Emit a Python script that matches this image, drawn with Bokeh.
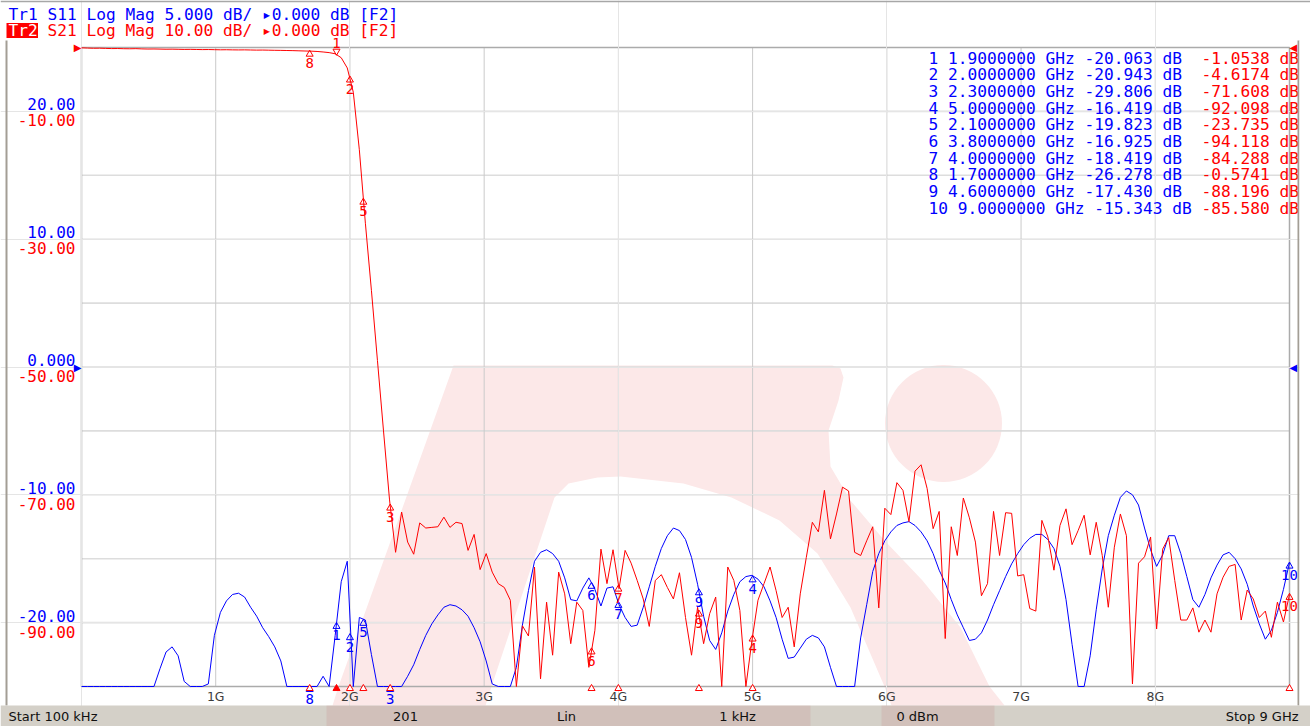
import numpy as np
from bokeh.plotting import figure
from bokeh.models import Range1d, Label, LabelSet, BoxAnnotation, ColumnDataSource
from bokeh.core.properties import value
from bokeh.embed import file_html
from bokeh.resources import INLINE

# ---------------- stimulus (status bar) ----------------
START_GHZ = 0.0001
STOP_GHZ = 9.0
POINTS = 201
status_texts = ["Start 100 kHz", "201", "Lin", "1 kHz", "0 dBm", "Stop 9 GHz"]

# ---------------- Tr1 : S11 Log Mag (dB), 201 points ----------------
s11_db = [
    -25, -25, -25, -25, -25, -25, -25, -25, -25, -25, -25, -25, -25,
    -23.6, -22.3, -21.9, -22.6, -24.6, -25, -25, -25, -24.8, -21.0, -19.2, -18.3,
    -17.8, -17.7, -18.0, -18.8, -19.5, -20.4, -21.1, -21.9, -23.0, -25, -25, -25,
    -25, -26.3, -25, -24.2, -25, -21.0, -16.8, -15.2, -28.0, -19.6, -19.8, -22.5,
    -25, -28.0, -29.8, -27.0, -25,
    -24.2, -23.3, -22.1, -21.0, -20.1, -19.4, -18.8, -18.6, -18.7, -19.0, -19.5,
    -20.4, -21.5, -23.0, -24.8, -25, -25, -25, -23.5, -20.2, -17.5, -15.2, -14.5,
    -14.3, -14.6, -15.2, -16.5, -18.2, -18.3, -17.3, -16.5, -17.4, -18.7, -17.3,
    -17.2, -18.6, -19.6, -20.3, -20.2, -18.8, -17.2, -15.6, -14.2, -13.2, -12.6,
    -12.8, -13.5, -14.9, -17.0, -19.5, -21.4, -22.1, -20.8, -19.1, -17.8, -16.8,
    -16.4, -16.3, -16.6, -17.2, -18.3, -19.6, -21.3, -22.8, -22.7, -22.0, -21.3,
    -21.0, -21.2, -21.9, -23.5, -25, -25, -25, -25, -21.2, -18.6, -16.0, -14.6,
    -13.6, -12.9, -12.4, -12.2, -12.1, -12.4, -12.9, -13.6, -14.6, -15.9, -16.9,
    -18.2, -19.4, -20.4, -21.4, -21.3, -20.8, -19.8, -18.6, -17.5, -16.4, -15.4,
    -14.6, -13.9, -13.4, -13.1, -13.1, -13.5, -14.2, -15.6, -18.2, -21.7, -25,
    -25, -22.6, -19.0, -15.8, -13.2, -11.6, -10.2, -9.7, -10.0, -10.8, -12.6,
    -14.3, -15.6, -14.7, -13.2, -13.2, -14.6, -16.4, -18.2, -18.8, -17.8, -16.5,
    -15.5, -14.7, -14.5, -15.0, -15.8, -17.0, -18.7, -20.1, -21.3, -20.6, -19.2,
    -17.4, -15.3,
]

# ---------------- Tr2 : S21 Log Mag (dB), 201 points ----------------
s21_db = [
    -0.05, -0.09, -0.12, -0.11, -0.14, -0.17, -0.16, -0.19, -0.20, -0.18,
    -0.22, -0.24, -0.23, -0.25, -0.27, -0.26, -0.28, -0.30, -0.29, -0.31,
    -0.33, -0.32, -0.34, -0.36, -0.35, -0.37, -0.38, -0.37, -0.39, -0.41,
    -0.40, -0.42, -0.44, -0.45, -0.47, -0.49, -0.52, -0.55,
    -0.57, -0.62, -0.70, -0.80, -0.98, -1.60, -3.20, -7.00, -16.0, -27.5,
    -38.0, -49.0, -60.0, -70.8,
    -79.0, -72.7, -77.4, -79.3, -74.4, -75.2, -75.1, -75.0, -73.5, -75.1,
    -74.3, -74.5, -78.7, -76.2, -81.7, -79.2, -82.1, -83.9, -84.5, -86.5,
    -100.0, -90.5, -92.1, -81.3, -98.8, -86.8, -95.1, -82.1, -85.5, -93.3,
    -86.8, -88.1, -97.0, -91.2, -78.5, -83.9, -78.6, -84.7, -78.7, -80.7,
    -83.4, -86.3, -90.6, -83.4, -82.5, -84.5, -86.3, -82.2, -89.2, -95.1,
    -87.6, -93.3, -88.6, -86.0, -100.0, -81.3, -83.4, -88.1, -100.0, -92.8,
    -86.5, -83.9, -81.3, -85.0, -89.2, -87.6, -93.8, -85.5, -79.8, -74.3,
    -75.8, -69.3, -76.9, -73.0, -68.8, -69.4, -79.0, -79.5, -77.2, -75.0,
    -87.7, -72.1, -73.1, -68.1, -69.3, -74.2, -66.3, -65.3, -69.0, -75.3,
    -72.6, -92.5, -75.0, -79.5, -70.5, -73.6, -77.4, -85.8, -83.9, -72.6,
    -79.5, -72.8, -72.9, -82.7, -82.5, -87.8, -88.2, -74.0, -76.6, -81.8,
    -74.8, -72.2, -77.8, -75.6, -73.2, -79.4, -74.3, -79.5, -87.6, -78.2,
    -73.0, -76.4, -99.6, -80.7, -79.7, -76.6, -91.0, -78.5, -76.7, -83.4,
    -89.6, -89.6, -87.7, -91.5, -89.6, -91.5, -85.5, -82.9, -81.2, -80.9,
    -89.6, -84.9, -86.3, -89.2, -88.2, -92.3, -86.8, -89.9, -85.6,
]

# ---------------- marker table ----------------
marker_ids = [1, 2, 3, 4, 5, 6, 7, 8, 9, 10]
marker_ghz = [1.9, 2.0, 2.3, 5.0, 2.1, 3.8, 4.0, 1.7, 4.6, 9.0]
marker_s11 = [-20.063, -20.943, -29.806, -16.419, -19.823, -16.925, -18.419, -26.278, -17.430, -15.343]
marker_s21 = [-1.0538, -4.6174, -71.608, -92.098, -23.735, -94.118, -84.288, -0.5741, -88.196, -85.580]
ACTIVE_MARKER = 1

# ---------------- scales / ticks ----------------
x_tick_ghz = [1, 2, 3, 4, 5, 6, 7, 8]
x_tick_labels = ["1G", "2G", "3G", "4G", "5G", "6G", "7G", "8G"]
s11_tick_db = [20, 10, 0, -10, -20]
s11_tick_labels = ["20.00", "10.00", "0.000", "-10.00", "-20.00"]
s21_tick_db = [-10, -30, -50, -70, -90]
s21_tick_labels = ["-10.00", "-30.00", "-50.00", "-70.00", "-90.00"]
S11_REF, S11_PER_DIV = 0.0, 5.0     # reference on the centre line
S21_REF, S21_PER_DIV = 0.0, 10.0    # reference on the top line
DIVS = 10
header_tr1 = "Tr1 S11 Log Mag 5.000 dB/ \u25b80.000 dB [F2]"
header_tr2_name = "Tr2"
header_tr2 = "S21 Log Mag 10.00 dB/ \u25b80.000 dB [F2]"

# ---------------- colours / layout (canvas pixels) ----------------
BLUE = "#0000ff"
RED = "#ff0000"
MONO = "DejaVu Sans Mono"
SANS = "DejaVu Sans"
FIG_W, FIG_H = 1310, 726
GL, GT, GW, GH = 81, 47, 1208, 639      # graticule box
PITCH = 9.75
PINK = "#fce8e8"

s11_lo = S11_REF - DIVS / 2 * S11_PER_DIV
s11_hi = S11_REF + DIVS / 2 * S11_PER_DIV
s21_hi = S21_REF
s21_lo = S21_REF - DIVS * S21_PER_DIV

freq = np.linspace(START_GHZ, STOP_GHZ, POINTS)
s11 = np.array(s11_db)
s21 = np.array(s21_db)

xpp = (STOP_GHZ - START_GHZ) / GW
ypp11 = (s11_hi - s11_lo) / GH
ypp21 = (s21_hi - s21_lo) / GH
x_range = Range1d(START_GHZ - GL * xpp, STOP_GHZ + (FIG_W - GL - GW) * xpp)
y_range = Range1d(s11_lo - (FIG_H - GT - GH) * ypp11, s11_hi + GT * ypp11)
y21_range = Range1d(s21_lo - (FIG_H - GT - GH) * ypp21, s21_hi + GT * ypp21)


def sx(X):          # canvas pixel -> screen units (origin bottom-left)
    return X


def sy(Y):
    return FIG_H - Y


def gx(X):          # canvas pixel -> GHz (background decoration only)
    return START_GHZ + (X - GL) * xpp


def gy(Y):
    return s11_hi - (Y - GT) * ypp11


p = figure(width=FIG_W, height=FIG_H, min_border=0, x_range=x_range, y_range=y_range,
           x_axis_location=None, y_axis_location=None, title=None,
           output_backend="svg", toolbar_location=None)
p.extra_y_ranges = {"s21": y21_range}
p.background_fill_color = "white"
p.border_fill_color = "white"
p.outline_line_color = None


def box(l, r, t, b, color, alpha=1.0, level="annotation"):
    p.add_layout(BoxAnnotation(left=sx(l), right=sx(r), top=sy(t), bottom=sy(b),
                               left_units="screen", right_units="screen",
                               top_units="screen", bottom_units="screen",
                               fill_color=color, fill_alpha=alpha, line_color=None,
                               level=level))


def label(X, Y, text, color, size="16px", font=MONO, align="left", level="annotation"):
    p.add_layout(Label(x=sx(X), y=sy(Y), x_units="screen", y_units="screen", text=text,
                       text_align=align, text_baseline="middle", text_font=font,
                       text_font_size=size, text_color=color, level=level))


# ---------- faint logo watermark ----------
logo_px = [(338, 686), (453, 365), (832, 365), (840, 368), (843, 377), (838, 400), (828, 430),
           (830, 466), (850, 500), (884, 540), (922, 580), (960, 627), (989, 686),
           (884, 686), (850, 607), (817, 553), (779, 520), (731, 497), (683, 483),
           (620, 476), (597, 477), (568, 483), (554, 497), (491, 686)]
p.patch([gx(a) for a, b in logo_px], [gy(b) for a, b in logo_px],
        fill_color=PINK, line_color=None, level="image")
p.scatter([gx(943)], [gy(423)], marker="circle", size=117,
          fill_color=PINK, line_color=None, level="image")
for pts in ([(338, 686), (491, 686), (485, 705), (332, 705)],
            [(884, 686), (989, 686), (1004, 705), (891, 705)]):
    p.patch([gx(a) for a, b in pts], [gy(b) for a, b in pts],
            fill_color=PINK, line_color=None, level="image")

# ---------- graticule ----------
ygrid = list(np.arange(s11_lo + S11_PER_DIV, s11_hi, S11_PER_DIV))
p.segment(x0=START_GHZ, x1=STOP_GHZ, y0=ygrid, y1=ygrid,
          line_color="#dddddd", line_width=1.6, level="underlay")
p.segment(x0=x_tick_ghz, x1=x_tick_ghz, y0=s11_lo, y1=s11_hi,
          line_color="#cacaca", line_width=1, level="underlay")
p.quad(left=START_GHZ, right=STOP_GHZ, bottom=s11_lo, top=s11_hi,
       fill_color=None, line_color="#ababab", line_width=1.5, level="underlay")

# x tick labels
p.add_layout(LabelSet(x="x", y="y", text="t", y_offset=-2,
                      source=ColumnDataSource(dict(x=x_tick_ghz, y=[s11_lo] * len(x_tick_ghz),
                                                   t=x_tick_labels)),
                      text_align="center", text_baseline="top", text_font=value(SANS),
                      text_font_size="12.5px", text_color="#3c3c3c"))

# y tick labels, two scales
for v, lab in zip(s11_tick_db, s11_tick_labels):
    p.add_layout(Label(x=sx(75), x_units="screen", y=v, y_units="data", y_offset=7,
                       text=lab, text_align="right", text_baseline="middle",
                       text_font=MONO, text_font_size="16px", text_color=BLUE))
for v, lab in zip(s21_tick_db, s21_tick_labels):
    p.add_layout(Label(x=sx(75), x_units="screen", y=v, y_units="data", y_range_name="s21",
                       y_offset=-9, text=lab, text_align="right", text_baseline="middle",
                       text_font=MONO, text_font_size="16px", text_color=RED))

# reference level arrows
for yv, rn, col in ((S11_REF, "default", BLUE), (S21_REF, "s21", RED)):
    p.add_layout(Label(x=sx(GL), x_units="screen", y=yv, y_units="data", y_range_name=rn,
                       text="\u25b6", text_align="right", text_baseline="middle",
                       text_font=SANS, text_font_size="10px", text_color=col))
    p.add_layout(Label(x=sx(GL + GW), x_units="screen", y=yv, y_units="data", y_range_name=rn,
                       text="\u25c0", text_align="left", text_baseline="middle",
                       text_font=SANS, text_font_size="10px", text_color=col))

# ---------- traces ----------
p.line(freq, np.clip(s11, s11_lo, s11_hi), line_color=BLUE, line_width=1)
p.line(freq, np.clip(s21, s21_lo, s21_hi), line_color=RED, line_width=1, y_range_name="s21")

# ---------- markers ----------
TRI = 3.0
m11 = np.clip(np.array(marker_s11), s11_lo, s11_hi)
m21 = np.clip(np.array(marker_s21), s21_lo, s21_hi)
fx = np.array(marker_ghz)
act = np.array(marker_ids) == ACTIVE_MARKER
ids_txt = np.array([str(i) for i in marker_ids])

p.scatter(fx, m11 - TRI * ypp11, marker="triangle", size=7,
          fill_color=None, line_color=BLUE, line_width=1)
p.add_layout(LabelSet(x="x", y="y", text="t", y_offset=-7,
                      source=ColumnDataSource(dict(x=list(fx), y=list(m11), t=list(ids_txt))),
                      text_align="center", text_baseline="top",
                      text_font=value(MONO), text_font_size="14px", text_color=BLUE))

p.scatter(fx[~act], m21[~act] - TRI * ypp21, marker="triangle", size=7,
          fill_color=None, line_color=RED, line_width=1, y_range_name="s21")
p.scatter(fx[act], m21[act] + TRI * ypp21, marker="inverted_triangle", size=7,
          fill_color=None, line_color=RED, line_width=1, y_range_name="s21")
p.add_layout(LabelSet(x="x", y="y", text="t", y_offset=-7, y_range_name="s21",
                      source=ColumnDataSource(dict(x=list(fx[~act]), y=list(m21[~act]),
                                                   t=list(ids_txt[~act]))),
                      text_align="center", text_baseline="top",
                      text_font=value(MONO), text_font_size="14px", text_color=RED))
p.add_layout(LabelSet(x="x", y="y", text="t", y_offset=6, y_range_name="s21",
                      source=ColumnDataSource(dict(x=list(fx[act]), y=list(m21[act]),
                                                   t=list(ids_txt[act]))),
                      text_align="center", text_baseline="bottom",
                      text_font=value(MONO), text_font_size="14px", text_color=RED))

# stimulus indicators on the bottom line of the graticule
p.scatter(fx[~act], [s11_lo - 2 * ypp11] * int((~act).sum()), marker="triangle", size=7,
          fill_color="white", line_color=RED, line_width=1)
p.scatter(fx[act], [s11_lo - 2 * ypp11] * int(act.sum()), marker="triangle", size=7,
          fill_color=RED, line_color=RED, line_width=1)

# ---------- header ----------
label(8, 14, header_tr1, BLUE, size="16.2px")
box(6, 37.5, 22.5, 37.5, RED)
label(8, 30, header_tr2_name, "white", size="16.2px")
label(8 + 4 * 9.75, 30, header_tr2, RED, size="16.2px")

# ---------- marker table ----------
def fmt5(v):
    d = len(str(int(abs(v))))
    return f"{v:.{5 - d}f}"


for k, (mid, f, a, b) in enumerate(zip(marker_ids, marker_ghz, marker_s11, marker_s21)):
    Y = 57.5 + 16.67 * k
    label(928, Y, f"{mid} {f:.7f} GHz {a:.3f} dB", BLUE, size="16.2px")
    label(928 + 28 * PITCH, Y, f"{fmt5(b)} dB", RED, size="16.2px")

# ---------- window frame lines ----------
box(0, FIG_W, 0, 1.8, "#a7a7a7", level="overlay")
box(5, 7, 40, 705, "#a39e95", level="overlay")
box(1297, 1299, 40, 705, "#a39e95", level="overlay")
box(1299, FIG_W, 40, 705, "white", level="overlay")

# ---------- status bar ----------
box(0, FIG_W, 705, FIG_H, "#d4d0c8", level="overlay")
for l, r in ((326, 810), (881, 994)):
    box(l, r, 705, FIG_H, "#c87878", alpha=0.18, level="overlay")
status_x = [8, 405, 566, 737, 917, 1298]
status_align = ["left", "center", "center", "center", "center", "right"]
for t, X, al in zip(status_texts, status_x, status_align):
    label(X, 715.5, t, "#101010", size="13px", font=SANS, align=al, level="overlay")

open("out.html", "w").write(file_html(p, INLINE))
